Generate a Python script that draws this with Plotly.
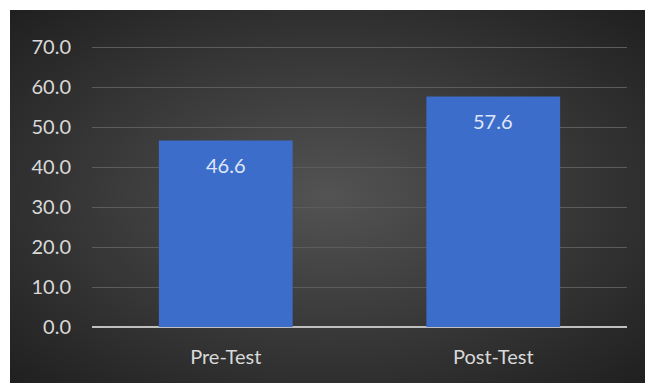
import base64
import plotly.graph_objects as go

categories = ["Pre-Test", "Post-Test"]
scores = [46.6, 57.6]
y_ticks = [0, 10, 20, 30, 40, 50, 60, 70]

svg = """<svg xmlns='http://www.w3.org/2000/svg' width='635' height='373' viewBox='0 0 635 373' preserveAspectRatio='none'>
<defs><radialGradient id='g' cx='50%' cy='50%' r='70%'>
<stop offset='0%' stop-color='#535353'/>
<stop offset='100%' stop-color='#202020'/>
</radialGradient></defs>
<rect width='635' height='373' fill='url(#g)'/></svg>"""
bg_src = "data:image/svg+xml;base64," + base64.b64encode(svg.encode()).decode()

FONT = "Lato, Open Sans, sans-serif"

fig = go.Figure()
fig.add_trace(go.Bar(
    x=categories, y=scores,
    marker=dict(color="#3d6dcb", line=dict(width=0)),
    width=0.5,
    hoverinfo="skip",
))
for c, v in zip(categories, scores):
    fig.add_annotation(x=c, y=v, text=f"{v:.1f}", showarrow=False,
                       yanchor="top", yshift=-10,
                       font=dict(family=FONT, size=20, color="#dfe7f6"))

L, R, T, B = 92, 18, 43, 56
W, H = 645, 383
pw, ph = W - L - R, H - T - B
fig.add_layout_image(dict(
    source=bg_src, xref="paper", yref="paper",
    x=(10 - L) / pw, y=(H - B - 10) / ph,
    sizex=(W - 10) / pw, sizey=(H - 10) / ph,
    xanchor="left", yanchor="top", sizing="stretch", layer="below",
))

fig.update_layout(
    width=W, height=H,
    margin=dict(l=L, r=R, t=T, b=B),
    paper_bgcolor="white",
    plot_bgcolor="rgba(0,0,0,0)",
    showlegend=False,
    font=dict(family=FONT, size=20, color="#d9d9d9"),
    xaxis=dict(showgrid=False, showline=False, zeroline=False, ticks="",
               ticklabelstandoff=16, tickfont=dict(size=20, color="#d9d9d9")),
    yaxis=dict(range=[0, 71], tickvals=y_ticks, tickformat=".1f",
               showgrid=True, gridcolor="#5c5c5c", gridwidth=1,
               zeroline=True, zerolinecolor="#bfbfbf", zerolinewidth=2,
               showline=False, ticks="", ticklabelstandoff=20,
               tickfont=dict(size=20, color="#d9d9d9")),
)

fig.write_html("out.html")
